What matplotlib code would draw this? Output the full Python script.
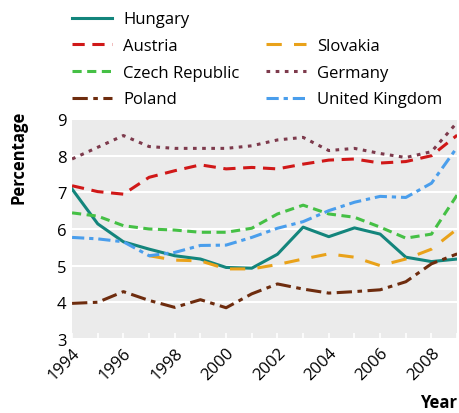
import numpy as np
import matplotlib
matplotlib.use("Agg")
import matplotlib.pyplot as plt
from matplotlib.lines import Line2D

plt.rcParams["font.family"] = ["Open Sans", "DejaVu Sans"]

years = list(range(1994, 2010))

hungary = [7.09, 6.14, 5.65, 5.45, 5.27, 5.18, 4.95, 4.93, 5.31, 6.05, 5.79, 6.03, 5.86, 5.23, 5.11, 5.18]
austria = [7.18, 7.02, 6.95, 7.41, 7.59, 7.75, 7.64, 7.68, 7.64, 7.77, 7.88, 7.91, 7.80, 7.84, 8.00, 8.56]
slovakia = [np.nan, np.nan, np.nan, 5.27, 5.15, 5.13, 4.91, 4.91, 5.03, 5.18, 5.32, 5.23, 5.00, 5.18, 5.45, 6.00]
czech = [6.44, 6.35, 6.09, 6.00, 5.97, 5.91, 5.91, 6.02, 6.41, 6.65, 6.41, 6.32, 6.05, 5.75, 5.86, 6.93]
germany = [7.91, 8.23, 8.55, 8.25, 8.20, 8.20, 8.20, 8.27, 8.43, 8.50, 8.14, 8.20, 8.06, 7.95, 8.11, 8.91]
poland = [3.97, 4.00, 4.29, 4.05, 3.86, 4.07, 3.85, 4.23, 4.50, 4.36, 4.25, 4.29, 4.34, 4.56, 5.05, 5.32]
uk = [5.77, 5.73, 5.65, 5.27, 5.36, 5.55, 5.56, 5.77, 6.02, 6.20, 6.50, 6.73, 6.89, 6.86, 7.25, 8.23]

series = [
    ("Hungary", hungary, "#13857c", "-"),
    ("Austria", austria, "#d01818", (0, (4, 2.5))),
    ("Slovakia", slovakia, "#e9a21a", (0, (5, 4))),
    ("Czech Republic", czech, "#45c045", (0, (3, 1.8))),
    ("Germany", germany, "#7d3a4c", (0, (1.2, 1.8))),
    ("Poland", poland, "#6e2c0e", (0, (5, 1.8, 1.5, 1.8))),
    ("United Kingdom", uk, "#4a9eec", (0, (4, 1.6, 1.4, 1.6))),
]

fig = plt.figure(figsize=(4.59, 4.14), dpi=100)
ax = fig.add_axes([0.157, 0.179, 0.839, 0.531])
ax.set_facecolor("#ebebeb")

handles = {}
for name, vals, color, ls in series:
    (ln,) = ax.plot(years, vals, color=color, linestyle=ls, linewidth=2.2)
    handles[name] = ln

ax.set_xlim(1994, 2009)
ax.set_ylim(3, 9)
ax.set_yticks(range(3, 10))
ax.set_xticks(range(1994, 2010))
ax.set_xticklabels([str(y) if y % 2 == 0 else "" for y in years], rotation=45,
                   ha="right", rotation_mode="anchor", fontsize=12)
ax.tick_params(axis="x", direction="in", length=4, color="white", width=1.2, pad=4)
ax.tick_params(axis="y", length=0, labelsize=12, pad=4)
ax.grid(axis="y", color="white", linewidth=1.5)
ax.set_axisbelow(True)
for s in ax.spines.values():
    s.set_visible(False)

# y label sits high on the left, as in the original
ax.set_ylabel("Percentage", fontweight="bold", fontsize=12)
ax.yaxis.set_label_coords(-0.117, 0.83)
fig.text(0.995, 0.005, "Year", fontweight="bold", fontsize=12, ha="right", va="bottom")

blank = Line2D([], [], color="none")
order = ["Hungary", "Austria", "Czech Republic", "Poland",
         None, "Slovakia", "Germany", "United Kingdom"]
leg_h = [handles[n] if n else blank for n in order]
leg_l = [n if n else "" for n in order]
fig.legend(leg_h, leg_l, loc="upper left", bbox_to_anchor=(0.157, 0.97), ncol=2,
           frameon=False, fontsize=12, handlelength=2.4, handletextpad=0.65,
           labelspacing=0.64, columnspacing=1.6, borderpad=0, borderaxespad=0)

fig.savefig("out.png", dpi=100)
